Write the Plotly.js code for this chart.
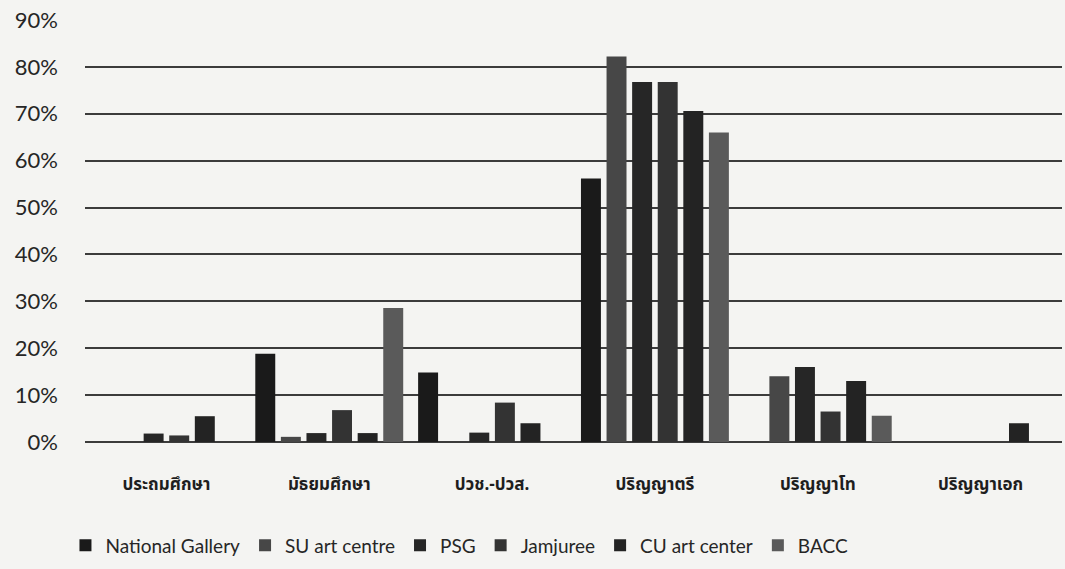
<!DOCTYPE html>
<html>
<head>
<meta charset="utf-8">
<script src="https://cdn.plot.ly/plotly-3.0.1.min.js"></script>
<style>html,body{margin:0;padding:0;background:#f4f4f2;}#chart{width:1065px;height:569px;}</style>
</head>
<body>
<div id="chart"></div>
<script>
const categories = ["ประถมศึกษา", "มัธยมศึกษา", "ปวช.-ปวส.", "ปริญญาตรี", "ปริญญาโท", "ปริญญาเอก"];
const seriesNames = ["National Gallery", "SU art centre", "PSG", "Jamjuree", "CU art center", "BACC"];
const nationalGallery = [0, 18.8, 14.8, 56.2, 0, 0];
const suArtCentre = [0, 1.1, 0, 82.2, 14.0, 0];
const psg = [1.8, 1.9, 2.0, 76.8, 16.0, 0];
const jamjuree = [1.4, 6.8, 8.4, 76.8, 6.5, 0];
const cuArtCenter = [5.5, 1.9, 4.0, 70.6, 13.0, 4.0];
const bacc = [0, 28.6, 0, 66.0, 5.6, 0];
const yTickVals = [0, 10, 20, 30, 40, 50, 60, 70, 80, 90];
const yTickText = ["0%", "10%", "20%", "30%", "40%", "50%", "60%", "70%", "80%", "90%"];

const allSeries = [nationalGallery, suArtCentre, psg, jamjuree, cuArtCenter, bacc];
const colors = ["#1a1a1a", "#474747", "#262626", "#333333", "#232323", "#5a5a5a"];

const data = allSeries.map((vals, i) => ({
  type: "bar",
  name: seriesNames[i],
  x: categories,
  y: vals,
  marker: {color: colors[i], line: {width: 0}},
  hoverinfo: "none"
}));

const layout = {
  width: 1065,
  height: 569,
  paper_bgcolor: "#f4f4f2",
  plot_bgcolor: "#f4f4f2",
  margin: {l: 85, r: 3, t: 20, b: 127},
  barmode: "group",
  bargap: 0.057,
  bargroupgap: 0.22,
  showlegend: true,
  legend: {
    orientation: "h",
    x: -0.02, xanchor: "left",
    y: -0.2, yanchor: "top",
    font: {family: "Lato, 'Open Sans', sans-serif", size: 19, color: "#262626"},
    bgcolor: "rgba(0,0,0,0)",
    traceorder: "normal",
    itemwidth: 30
  },
  xaxis: {
    type: "category",
    showgrid: false,
    zeroline: false,
    showline: false,
    ticks: "",
    ticklabelstandoff: 30,
    tickfont: {family: "'Noto Sans Thai', 'Noto Sans', sans-serif", size: 17, color: "#1e1e1e", weight: "bold"}
  },
  yaxis: {
    range: [0, 90],
    tickvals: yTickVals,
    ticktext: yTickText,
    showgrid: true,
    gridcolor: "#3c3c3c",
    gridwidth: 2,
    zeroline: true,
    zerolinecolor: "#3c3c3c",
    zerolinewidth: 2,
    showline: false,
    ticks: "",
    ticklabelstandoff: 26,
    tickfont: {family: "Lato, 'Open Sans', sans-serif", size: 22, color: "#262626"}
  }
};

Plotly.newPlot("chart", data, layout, {displayModeBar: false, staticPlot: true});
</script>
</body>
</html>
